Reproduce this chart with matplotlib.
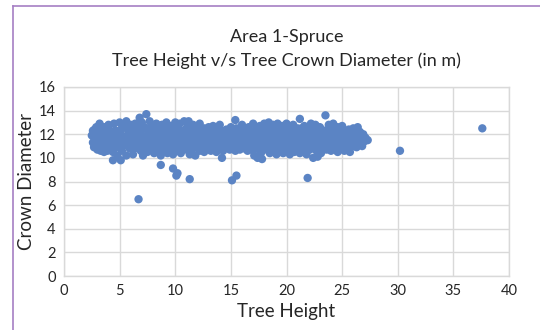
import matplotlib
matplotlib.use("Agg")
import matplotlib.pyplot as plt
from matplotlib.lines import Line2D

# Main cloud (tree height, crown diameter)
height = [
 2.5,2.6,2.6,2.7,2.8,2.9,2.9,3.0,3.0,
 3.2,3.2,3.3,3.4,3.5,3.5,3.6,3.6,
 3.8,3.8,3.9,4.0,4.0,4.1,4.2,4.2,
 4.4,4.4,4.5,4.5,4.6,4.7,4.8,4.8,
 5.0,5.0,5.1,5.2,5.2,5.3,5.4,5.4,
 5.6,5.6,5.7,5.8,5.9,5.9,6.0,6.0,
 6.2,6.2,6.3,6.4,6.5,6.5,6.6,6.6,
 6.8,6.9,6.9,7.0,7.0,7.1,7.2,7.2,
 7.4,7.4,7.5,7.6,7.6,7.7,7.8,7.8,
 8.0,8.0,8.1,8.2,8.3,8.3,8.4,8.4,
 8.6,8.6,8.7,8.8,8.9,8.9,9.0,9.0,
 9.2,9.2,9.3,9.4,9.5,9.5,9.6,9.6,
 9.8,9.8,9.9,10.0,10.0,10.1,10.2,10.2,
 10.4,10.4,10.5,10.6,10.6,10.7,10.8,10.8,
 11.0,11.0,11.1,11.2,11.2,11.3,11.4,11.4,
 11.6,11.6,11.7,11.8,11.9,11.9,12.0,12.0,
 12.2,12.2,12.3,12.4,12.5,12.5,12.6,12.6,
 12.8,12.8,12.9,13.0,13.1,13.1,13.2,13.2,
 13.4,13.4,13.5,13.6,13.7,13.7,13.8,13.8,
 14.0,14.0,14.1,14.2,14.2,14.3,14.4,14.4,
 14.6,14.6,14.7,14.8,14.9,14.9,15.0,15.0,
 15.2,15.2,15.3,15.4,15.4,15.5,15.6,15.6,
 15.8,15.8,15.9,16.0,16.0,16.1,16.2,16.2,
 16.4,16.4,16.5,16.6,16.7,16.7,16.8,16.8,
 17.0,17.0,17.1,17.2,17.3,17.3,17.4,17.4,
 17.6,17.6,17.7,17.8,17.9,17.9,18.0,18.0,
 18.2,18.2,18.3,18.4,18.5,18.5,18.6,18.6,
 18.8,18.8,18.9,19.0,19.1,19.1,19.2,19.2,
 19.4,19.4,19.5,19.6,19.7,19.7,19.8,19.8,
 20.0,20.0,20.1,20.2,20.3,20.3,20.4,20.4,
 20.6,20.6,20.7,20.8,20.9,20.9,21.0,21.0,
 21.2,21.2,21.3,21.4,21.5,21.5,21.6,21.6,
 21.8,21.8,21.9,22.0,22.1,22.1,22.2,22.2,
 22.4,22.4,22.5,22.6,22.7,22.7,22.8,22.8,
 23.0,23.0,23.1,23.2,23.3,23.3,23.4,23.5,
 23.6,23.6,23.7,23.8,23.9,23.9,24.0,24.0,
 24.2,24.2,24.3,24.4,24.5,24.5,24.6,24.6,
 24.8,24.8,24.9,25.0,25.1,25.1,25.2,25.2,
 25.4,25.4,25.5,25.6,25.7,25.7,25.8,25.8,
 26.0,26.0,26.1,26.2,26.3,26.3,26.4,26.4,
 26.6,26.6,26.7,26.8,26.9,27.0,27.1,27.3,
]
crown = [
 11.9,11.3,12.3,10.9,11.6,12.6,11.1,12.0,10.7,
 12.9,11.4,10.6,12.2,11.0,11.8,12.6,10.5,
 12.4,11.2,10.6,12.8,11.7,10.9,12.1,11.4,
 9.8,10.5,12.9,11.6,11.0,12.3,10.2,11.9,
 13.0,11.3,9.8,12.5,10.6,11.8,12.9,11.1,
 13.1,10.2,11.6,12.4,10.8,12.0,11.3,12.8,
 10.3,12.2,11.5,12.9,10.9,11.9,12.5,11.2,
 13.4,10.6,12.1,11.5,13.0,10.2,12.6,11.0,
 13.7,11.8,10.5,12.3,11.2,13.1,10.9,12.0,
 12.7,11.5,10.4,12.2,11.0,12.9,11.7,10.7,
 12.4,11.2,10.2,12.8,11.8,10.6,12.2,11.0,
 13.0,11.5,10.4,12.4,11.1,12.0,10.8,12.7,
 11.6,10.3,12.3,13.0,11.0,11.9,10.6,12.6,
 11.3,12.9,10.4,12.2,11.7,10.9,13.1,11.4,
 12.5,10.7,11.9,13.1,11.2,10.3,12.2,11.6,
 12.8,10.8,11.4,10.2,12.3,11.8,11.1,12.6,
 12.9,10.6,11.6,12.2,11.0,11.9,10.5,12.5,
 11.4,12.0,10.8,12.6,11.1,11.8,10.6,12.3,
 11.5,12.7,10.9,12.1,11.2,10.5,12.5,11.8,
 12.8,11.0,11.6,10.0,12.2,10.6,11.9,11.3,
 12.4,10.9,11.6,12.0,11.2,10.7,12.6,11.5,
 11.0,12.2,11.7,13.2,10.6,12.5,11.3,11.9,
 10.7,12.3,11.5,12.8,11.1,11.8,10.8,12.4,
 11.3,12.0,10.6,12.6,11.6,11.0,10.7,12.2,
 12.9,11.4,10.2,11.9,10.8,12.4,10.0,11.2,
 11.7,12.7,10.4,9.9,12.2,11.0,11.6,12.9,
 10.7,12.4,11.3,13.0,11.8,10.4,12.1,11.0,
 12.8,11.4,10.6,12.3,11.7,10.3,12.9,11.1,
 12.0,10.8,11.5,12.7,10.4,11.9,12.4,11.2,
 12.9,10.6,11.6,12.2,11.0,10.3,12.6,11.8,
 11.3,12.8,10.5,12.1,11.7,10.9,12.5,11.1,
 13.3,10.4,11.5,12.3,10.8,11.9,12.7,11.2,
 12.0,10.3,11.4,12.6,10.7,11.8,12.9,11.1,
 10.0,12.2,11.5,12.8,10.6,11.9,10.1,12.4,
 11.2,12.6,10.4,11.8,12.3,10.9,11.5,13.6,
 12.1,10.7,11.4,12.8,11.0,11.9,12.4,10.6,
 11.6,12.9,10.8,12.2,11.2,11.8,10.5,12.6,
 11.4,12.1,10.9,12.7,11.1,11.7,10.6,12.3,
 11.5,12.0,10.8,12.4,11.2,10.5,11.8,12.2,
 11.0,12.5,11.6,12.1,10.9,11.4,12.6,11.8,
 11.2,12.2,11.7,11.0,12.0,11.4,11.7,11.5,
]
# Denser core of the cloud
core_height = [
 2.75,2.75,2.75,2.75, 3.35,3.35,3.35,3.35, 3.95,3.95,3.95,3.95,
 4.55,4.55,4.55,4.55, 5.15,5.15,5.15,5.15, 5.75,5.75,5.75,5.75,
 6.35,6.35,6.35,6.35, 6.95,6.95,6.95,6.95, 7.55,7.55,7.55,7.55,
 8.15,8.15,8.15,8.15, 8.75,8.75,8.75,8.75, 9.35,9.35,9.35,9.35,
 9.95,9.95,9.95,9.95, 10.55,10.55,10.55,10.55, 11.15,11.15,11.15,11.15,
 11.75,11.75,11.75,11.75, 12.35,12.35,12.35,12.35, 12.95,12.95,12.95,12.95,
 13.55,13.55,13.55,13.55, 14.15,14.15,14.15,14.15, 14.75,14.75,14.75,14.75,
 15.35,15.35,15.35,15.35, 15.95,15.95,15.95,15.95, 16.55,16.55,16.55,16.55,
 17.15,17.15,17.15,17.15, 17.75,17.75,17.75,17.75, 18.35,18.35,18.35,18.35,
 18.95,18.95,18.95,18.95, 19.55,19.55,19.55,19.55, 20.15,20.15,20.15,20.15,
 20.75,20.75,20.75,20.75, 21.35,21.35,21.35,21.35, 21.95,21.95,21.95,21.95,
 22.55,22.55,22.55,22.55, 23.15,23.15,23.15,23.15, 23.75,23.75,23.75,23.75,
 24.35,24.35,24.35,24.35, 24.95,24.95,24.95,24.95, 25.55,25.55,25.55,25.55,
 26.15,26.15,26.15,26.15, 26.75,26.75,26.75,
]
core_crown = [
 11.0,11.5,12.0,12.4, 10.9,11.4,11.9,12.4, 11.0,11.5,12.0,12.5,
 10.8,11.3,11.8,12.3, 10.9,11.4,11.9,12.4, 11.0,11.5,12.0,12.5,
 10.8,11.3,11.8,12.3, 10.9,11.4,11.9,12.4, 11.0,11.5,12.0,12.5,
 10.9,11.4,11.9,12.4, 10.8,11.3,11.8,12.3, 11.0,11.5,12.0,12.5,
 10.9,11.4,11.9,12.4, 10.8,11.3,11.8,12.3, 11.0,11.5,12.0,12.5,
 10.9,11.4,11.9,12.4, 11.0,11.5,12.0,12.4, 10.9,11.4,11.9,12.3,
 11.0,11.5,12.0,12.4, 10.8,11.3,11.8,12.3, 11.0,11.4,11.9,12.3,
 10.9,11.4,11.9,12.4, 11.0,11.5,12.0,12.5, 10.9,11.4,11.9,12.4,
 10.8,11.3,11.8,12.3, 11.0,11.5,12.0,12.5, 10.9,11.4,11.9,12.4,
 10.8,11.3,11.8,12.3, 11.0,11.5,12.0,12.5, 10.9,11.4,11.9,12.4,
 10.8,11.3,11.8,12.3, 11.0,11.5,12.0,12.5, 10.9,11.4,11.9,12.4,
 10.8,11.3,11.8,12.3, 11.0,11.5,12.0,12.4, 10.9,11.4,11.9,12.4,
 10.8,11.3,11.8,12.3, 11.0,11.5,12.0,12.4, 10.9,11.4,11.9,12.3,
 11.0,11.5,12.0,12.3, 11.2,11.6,12.0,
]
# Isolated points
out_height = [6.7, 8.7, 9.8, 10.1, 10.2, 11.3, 15.1, 15.5, 21.9, 30.2, 37.6]
out_crown = [6.5, 9.4, 9.1, 8.5, 8.7, 8.2, 8.1, 8.5, 8.3, 10.6, 12.5]

x_ticks = [0, 5, 10, 15, 20, 25, 30, 35, 40]
y_ticks = [0, 2, 4, 6, 8, 10, 12, 14, 16]

plt.rcParams['font.family'] = ['Lato', 'DejaVu Sans']
txt = '#262626'
blue = '#5b84c4'

fig = plt.figure(figsize=(5.4, 3.3), dpi=100)
ax = fig.add_axes([64/540, 1-276/330, 445/540, 189/330])

for xs, ys in ((height, crown), (core_height, core_crown), (out_height, out_crown)):
    ax.scatter(xs, ys, s=36, color=blue, edgecolors='none', zorder=3)

ax.set_xlim(0, 40)
ax.set_ylim(0, 16)
ax.set_xticks(x_ticks)
ax.set_yticks(y_ticks)
ax.grid(True, color='#d9d9d9', linewidth=1.0, zorder=0)
ax.set_axisbelow(True)
for s in ax.spines.values():
    s.set_color('#d9d9d9')
    s.set_linewidth(1.0)
ax.tick_params(length=0, labelsize=10.5, colors=txt, pad=6)

ax.set_xlabel('Tree Height', fontsize=13.5, color=txt, labelpad=3)
ax.set_ylabel('Crown Diameter', fontsize=13.5, color=txt, labelpad=3)

fig.text(0.531, 1-37/330, 'Area 1-Spruce', ha='center', va='center', fontsize=13, color=txt)
fig.text(0.531, 1-61/330, 'Tree Height v/s Tree Crown Diameter (in m)', ha='center', va='center', fontsize=13, color=txt)

bc = '#a67fc4'
fig.add_artist(Line2D([12.5/540, 12.5/540], [0, 1-6/330], transform=fig.transFigure, color=bc, linewidth=1.2))
fig.add_artist(Line2D([12.5/540, 1], [1-6/330, 1-6/330], transform=fig.transFigure, color=bc, linewidth=1.2))

fig.savefig('out.png', dpi=100)
